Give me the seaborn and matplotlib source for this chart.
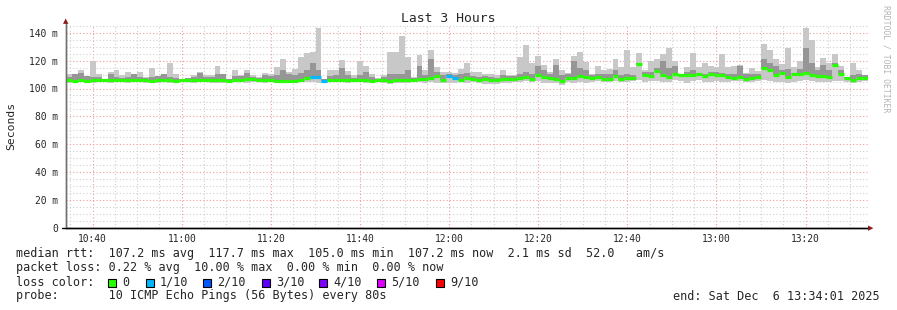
import numpy as np
import pandas as pd
import matplotlib
matplotlib.use("Agg")
import matplotlib.pyplot as plt
from matplotlib.patches import Rectangle
import seaborn as sns

# ---------------- data ----------------
step_seconds = 80
x_start_min = 34 + 1 / 60.0          # minutes after 10:00 (10:34:01)
x_end_min = x_start_min + 180

median_ms = [
    105.8, 105.3, 106.2, 105.3, 105.8, 106.2, 106.2, 106.2, 106.2, 106.2, 106.0, 106.2, 106.0, 105.8, 105.3, 105.8, 106.2, 105.8, 105.3, 106.2, 106.2, 106.2, 106.2,
    106.2, 106.2, 106.2, 105.8, 105.3, 106.2, 106.2, 107.0, 106.6, 106.2, 106.2, 106.2, 105.3, 105.3, 105.3, 105.3, 105.8, 107.7, 108.2, 108.2, 105.3, 106.2, 106.2,
    106.2, 106.2, 106.2, 106.2, 106.2, 105.3, 106.2, 106.2, 105.3, 106.2, 106.2, 106.2, 106.2, 106.6, 106.6, 107.7, 108.7, 105.8, 108.7, 107.7, 106.2, 107.7,
    106.6, 106.2, 106.6, 106.2, 106.2, 106.6, 106.6, 106.6, 107.3, 108.2, 106.6, 109.9, 108.2, 107.7, 107.0, 105.3, 107.7, 107.7, 108.9, 108.2, 107.7, 108.2, 107.0,
    107.0, 108.7, 107.0, 107.7, 107.7, 117.7, 109.4, 108.9, 112.3, 109.4, 108.2, 110.2, 109.4, 109.4, 109.4, 110.2, 108.9, 110.2, 109.4, 109.4, 108.2, 107.7,
    108.2, 107.0, 107.7, 108.2, 114.9, 113.6, 109.4, 111.4, 108.2, 110.2, 110.2, 111.1, 109.4, 108.9, 108.7, 108.2, 116.5, 110.2, 107.7, 106.2, 107.7, 107.7,
]
smoke_max_ms = [
    110.5, 110.5, 113.4, 108.6, 120.0, 110.2, 107.0, 112.0, 113.0, 109.4, 112.0, 109.0, 111.5, 108.0, 114.5, 109.0, 110.5, 118.5, 110.2, 107.0, 107.7, 109.4, 112.0,
    109.4, 109.4, 116.3, 110.2, 107.0, 113.0, 109.4, 113.0, 109.4, 108.2, 111.1, 110.7, 115.4, 121.4, 111.9, 114.2, 122.6, 125.5, 126.0, 143.6, 107.0, 113.0, 113.0,
    120.2, 112.3, 109.4, 119.5, 115.9, 110.2, 107.7, 109.4, 126.0, 126.0, 137.9, 122.6, 108.2, 123.9, 113.5, 127.9, 115.4, 111.9, 111.9, 111.1, 114.2, 118.6,
    111.9, 111.9, 110.7, 110.7, 109.4, 113.0, 109.4, 109.4, 122.6, 131.5, 118.4, 123.0, 116.5, 111.9, 121.0, 113.5, 111.1, 123.0, 126.2, 119.3, 110.7, 115.9, 113.0,
    114.2, 121.0, 115.4, 127.4, 115.4, 125.1, 113.0, 119.8, 121.4, 125.0, 128.7, 119.8, 110.5, 115.4, 125.5, 115.4, 118.4, 115.9, 115.4, 125.0, 115.4, 115.9,
    117.0, 111.1, 114.9, 112.3, 132.2, 127.9, 121.4, 117.4, 128.7, 115.4, 119.8, 143.6, 134.5, 115.4, 122.0, 118.4, 124.6, 115.9, 108.2, 118.6, 113.0, 110.0,
]
smoke_q3_ms = [
    108.2, 110.7, 111.2, 108.7, 108.2, 108.2, 107.0, 110.2, 108.2, 107.7, 108.2, 110.7, 108.2, 107.7, 108.2, 108.7, 110.2, 108.2, 107.7, 107.0, 107.7, 108.2, 111.2,
    108.2, 108.2, 110.2, 110.2, 106.6, 108.7, 108.7, 111.2, 108.2, 107.7, 109.4, 108.7, 109.4, 113.0, 110.2, 109.4, 111.2, 113.5, 118.0, 113.0, 106.6, 108.7, 109.4,
    115.0, 109.4, 107.7, 109.4, 112.0, 108.2, 107.0, 108.2, 110.2, 110.2, 110.7, 113.5, 107.7, 115.9, 109.4, 121.4, 112.0, 109.4, 110.2, 109.4, 110.2, 111.2,
    108.7, 108.2, 108.7, 108.2, 107.7, 109.4, 108.7, 108.7, 110.2, 112.0, 110.2, 115.9, 113.5, 110.2, 116.5, 109.4, 110.2, 120.0, 115.0, 113.0, 109.4, 110.2, 110.2,
    110.2, 113.0, 109.4, 110.2, 109.4, 118.6, 112.0, 112.0, 115.0, 119.8, 115.0, 116.0, 110.2, 112.0, 113.0, 111.2, 110.5, 112.0, 112.0, 111.2, 110.2, 110.2,
    115.9, 110.2, 110.2, 110.2, 121.4, 118.0, 116.0, 113.0, 114.2, 110.2, 114.2, 128.7, 118.6, 113.0, 116.5, 113.0, 118.0, 113.0, 108.2, 109.4, 110.2, 109.4,
]
smoke_min_ms = [
    104.3, 104.3, 104.6, 104.0, 103.6, 104.6, 104.6, 104.3, 104.6, 104.6, 104.3, 104.6, 104.6, 104.0, 103.6, 104.3, 104.6, 104.0, 104.3, 104.6, 104.6, 104.3, 104.6,
    104.6, 104.3, 104.3, 103.6, 104.0, 104.6, 104.6, 104.3, 104.6, 104.6, 104.3, 104.6, 104.0, 104.3, 104.0, 104.3, 104.6, 104.6, 104.6, 104.0, 104.3, 104.6, 104.6,
    104.6, 104.3, 104.6, 104.6, 104.3, 103.6, 104.6, 104.0, 103.4, 104.3, 104.0, 103.6, 104.6, 104.6, 104.3, 104.6, 104.3, 104.3, 104.0, 103.6, 104.6, 104.3,
    104.6, 103.8, 103.4, 103.0, 103.4, 103.8, 104.3, 104.6, 104.6, 105.3, 104.6, 105.3, 104.3, 104.0, 104.3, 102.8, 104.6, 104.3, 104.6, 104.3, 104.6, 105.3, 104.6,
    104.6, 105.3, 104.6, 104.6, 105.3, 105.8, 104.6, 105.3, 105.3, 104.6, 104.6, 105.8, 105.3, 104.3, 105.3, 105.8, 104.6, 104.6, 105.3, 104.6, 104.6, 105.3,
    105.3, 104.6, 104.6, 105.3, 105.8, 105.3, 104.6, 104.6, 104.3, 104.6, 105.3, 105.8, 105.3, 104.6, 104.6, 104.6, 105.3, 105.3, 104.6, 103.8, 104.6, 105.3,
]
# steps whose median is drawn in the 1/10 loss colour
loss_steps_1of10 = [41, 42, 43, 64, 65]

xtick_labels = ["10:40", "11:00", "11:20", "11:40", "12:00", "12:20", "12:40", "13:00", "13:20"]
xtick_minutes = [40, 60, 80, 100, 120, 140, 160, 180, 200]
ytick_values = [0, 20, 40, 60, 80, 100, 120, 140]
ytick_labels = ["0", "20 m", "40 m", "60 m", "80 m", "100 m", "120 m", "140 m"]

loss_names = ["0", "1/10", "2/10", "3/10", "4/10", "5/10", "9/10"]
loss_colors = ["#26ff00", "#00b8ff", "#0059ff", "#5e00ff", "#7e00ff", "#dd00ff", "#ff0000"]

title = "Last 3 Hours"
ylabel = "Seconds"
line_rtt = "median rtt:  107.2 ms avg  117.7 ms max  105.0 ms min  107.2 ms now  2.1 ms sd  52.0   am/s"
line_loss = "packet loss: 0.22 % avg  10.00 % max  0.00 % min  0.00 % now"
line_probe = "probe:       10 ICMP Echo Pings (56 Bytes) every 80s"
line_end = "end: Sat Dec  6 13:34:01 2025"
watermark = "RRDTOOL / TOBI OETIKER"

# ---------------- figure ----------------
sns.set_style("white")
plt.rcParams["font.family"] = ["DejaVu Sans Mono"]

W, H = 897, 310
fig = plt.figure(figsize=(W / 100, H / 100), dpi=100)
fig.patch.set_facecolor("white")

def fx(x):
    return x / W

def fy(y):
    return 1 - y / H

ax_left, ax_right, ax_top, ax_bottom = 66, 868, 25, 228
ax = fig.add_axes([fx(ax_left), fy(ax_bottom), (ax_right - ax_left) / W, (ax_bottom - ax_top) / H])
ax.set_facecolor("white")
px_per_ms = (228 - 32.7) / 140.0
ax.set_xlim(x_start_min, x_end_min)
ax.set_ylim(0, (ax_bottom - ax_top) / px_per_ms)

n = len(median_ms)
step_min = step_seconds / 60.0
edges = x_start_min + np.arange(n + 1) * step_min

# grid
dot = (0, (1, 2))
for m in np.arange(35, 215, 5):
    major = (m % 20 == 0)
    ax.axvline(m, color="#f09a9a" if major else "#cfcfcf", lw=0.8, ls=dot, zorder=0)
for v in np.arange(5, 146, 5):
    major = (v % 20 == 0)
    ax.axhline(v, color="#f09a9a" if major else "#cfcfcf", lw=0.8, ls=dot, zorder=0)

def ext(a):
    a = np.asarray(a, dtype=float)
    return np.append(a, a[-1])

med = np.asarray(median_ms)
ax.fill_between(edges, ext(smoke_min_ms), ext(smoke_max_ms), step="post",
                color="#c8c8c8", lw=0, zorder=2)
ax.fill_between(edges, ext(median_ms), ext(smoke_q3_ms), step="post",
                color="#969696", lw=0, zorder=3)

# median line segments coloured by loss
loss = np.zeros(n, dtype=int)
loss[loss_steps_1of10] = 1
rows = []
for i in range(n):
    for xx in (edges[i], edges[i + 1]):
        rows.append({"x": xx, "y": med[i], "seg": i, "loss": loss_names[loss[i]]})
df = pd.DataFrame(rows)
sns.lineplot(data=df, x="x", y="y", units="seg", estimator=None, hue="loss",
             palette={loss_names[0]: loss_colors[0], loss_names[1]: loss_colors[1]},
             lw=2.3, legend=False, ax=ax, zorder=5, solid_capstyle="butt")

# axes & ticks
for s in ["top", "right"]:
    ax.spines[s].set_visible(False)
ax.spines["left"].set_color("#707070")
ax.spines["left"].set_linewidth(1.0)
ax.spines["bottom"].set_color("#000000")
ax.spines["bottom"].set_linewidth(1.0)
ax.set_xticks(xtick_minutes)
ax.set_xticklabels(xtick_labels, fontsize=6.9)
ax.set_xticks(np.arange(35, 215, 5), minor=True)
ax.set_yticks(ytick_values)
ax.set_yticklabels(ytick_labels, fontsize=6.9)
ax.tick_params(axis="y", which="major", length=3, width=0.8, color="#606060", pad=3)
ax.tick_params(axis="x", which="major", length=3, width=0.8, color="#606060", pad=1.5)
ax.tick_params(axis="x", which="minor", length=2, width=0.8, color="#606060")
ax.set_xlabel("")
ax.set_ylabel("")

# axis extensions and arrow heads
fig.add_artist(plt.Line2D([fx(66)] * 2, [fy(228), fy(22)], color="#707070", lw=1.0))
fig.add_artist(plt.Line2D([fx(62), fx(868)], [fy(228)] * 2, color="#000000", lw=1.0))
fig.text(fx(66), fy(21), "\u25B2", color="#8b1a1a", fontsize=5, ha="center", va="center",
         family=["DejaVu Sans"])
fig.text(fx(871), fy(228), "\u25B6", color="#8b1a1a", fontsize=5, ha="center", va="center",
         family=["DejaVu Sans"])

# titles
fig.text(fx(448), fy(19), title, fontsize=9.4, ha="center", va="center")
fig.text(fx(11), fy(126), ylabel, fontsize=8.2, rotation=90, ha="center", va="center")
fig.text(fx(886), fy(5), watermark, fontsize=5.9, rotation=270, ha="center", va="top",
         color="#b4b4b4")

# legend block
fs = 8.5
fig.text(fx(16), fy(254), line_rtt, fontsize=fs, ha="left", va="center")
fig.text(fx(16), fy(268), line_loss, fontsize=fs, ha="left", va="center")
fig.text(fx(16), fy(282), "loss color:", fontsize=fs, ha="left", va="center")
sq_x = [108, 146, 203, 262, 319, 377, 436]
for xs, name, col in zip(sq_x, loss_names, loss_colors):
    fig.add_artist(Rectangle((fx(xs), fy(286.5)), 8 / W, 8 / H, transform=fig.transFigure,
                             facecolor=col, edgecolor="#000000", lw=0.8))
    fig.text(fx(xs + 14), fy(282), name, fontsize=fs, ha="left", va="center")
fig.text(fx(16), fy(296), line_probe, fontsize=fs, ha="left", va="center")
fig.text(fx(880), fy(296), line_end, fontsize=fs, ha="right", va="center")

fig.savefig("out.png", dpi=100, facecolor="white")
